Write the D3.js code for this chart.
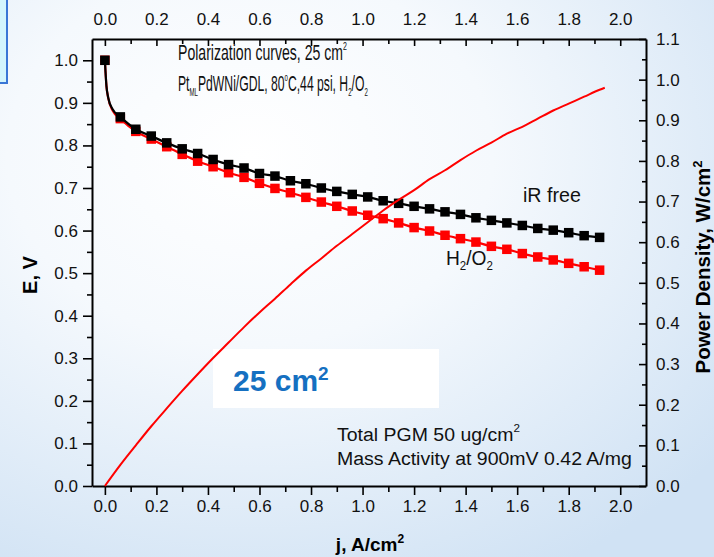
<!DOCTYPE html>
<html lang="en">
  <head>
    <meta charset="UTF-8" />
    <title>Polarization curves</title>
    <script src="https://cdn.jsdelivr.net/npm/d3@7/dist/d3.min.js"></script>
    <style>
      body { margin: 0; }
      text { font-family: "Liberation Sans", Arial, sans-serif; }
    </style>
  </head>
  <body>
    <script>
      // current density grid (A/cm2) where markers sit
      let currentDensity = [0, 0.06, 0.12, 0.18, 0.24, 0.3, 0.36, 0.42, 0.48, 0.54, 0.6,
        0.66, 0.72, 0.78, 0.84, 0.9, 0.96, 1.02, 1.08, 1.14, 1.2, 1.26, 1.32, 1.38,
        1.44, 1.5, 1.56, 1.62, 1.68, 1.74, 1.8, 1.86, 1.92];
      let eIRFree = [1.0, 0.867, 0.838, 0.822, 0.806, 0.792, 0.781, 0.767, 0.755, 0.747,
        0.734, 0.728, 0.717, 0.71, 0.7, 0.692, 0.685, 0.679, 0.67, 0.664, 0.657, 0.651,
        0.644, 0.638, 0.63, 0.624, 0.618, 0.612, 0.605, 0.601, 0.595, 0.588, 0.584];
      let eH2O2 = [1.0, 0.863, 0.833, 0.815, 0.797, 0.779, 0.763, 0.75, 0.736, 0.725,
        0.711, 0.699, 0.689, 0.678, 0.667, 0.657, 0.646, 0.636, 0.628, 0.618, 0.607,
        0.599, 0.589, 0.581, 0.573, 0.563, 0.556, 0.546, 0.538, 0.531, 0.523, 0.515, 0.507];
      let powerJ = currentDensity.concat([1.94]);
      let powerDensity = [0, 0.052, 0.1, 0.147, 0.191, 0.234, 0.275, 0.315, 0.353, 0.391,
        0.427, 0.461, 0.496, 0.53, 0.56, 0.591, 0.62, 0.649, 0.678, 0.704, 0.728, 0.755,
        0.777, 0.802, 0.825, 0.845, 0.867, 0.884, 0.904, 0.924, 0.941, 0.958, 0.975, 0.98];
      // extra line-only points near open circuit
      let lowJ = [0.006, 0.013, 0.03];
      let lowEIRFree = [0.94, 0.912, 0.885];
      let lowEH2O2 = [0.94, 0.911, 0.882];

      let xTicks = [0, 0.2, 0.4, 0.6, 0.8, 1.0, 1.2, 1.4, 1.6, 1.8, 2.0];
      let eTicks = d3.range(0, 11).map((d) => d / 10);
      let pTicks = d3.range(0, 12).map((d) => d / 10);

      let W = 714, H = 557;
      let L = 92, R = 646, T = 39, B = 486;

      let svg = d3.select("body").append("svg").attr("width", W).attr("height", H);

      let defs = svg.append("defs");
      let grad = defs.append("radialGradient").attr("id", "bg")
        .attr("cx", "35%").attr("cy", "28%").attr("r", "85%");
      grad.append("stop").attr("offset", "0%").attr("stop-color", "#ffffff");
      grad.append("stop").attr("offset", "40%").attr("stop-color", "#f5f9fd");
      grad.append("stop").attr("offset", "100%").attr("stop-color", "#d0e2f4");
      svg.append("rect").attr("width", W).attr("height", H).attr("fill", "url(#bg)");

      // slide box peeking in at top-left
      svg.append("rect").attr("x", -3).attr("y", -3).attr("width", 10).attr("height", 86)
        .attr("fill", "#d3f5fd").attr("stroke", "#3a76d6").attr("stroke-width", 2);

      let x = d3.scaleLinear().domain([-0.05, 2.1]).range([L, R]);
      let yE = d3.scaleLinear().domain([0, 1.05]).range([B, T]);
      let yP = d3.scaleLinear().domain([0, 1.1]).range([B, T]);

      let fmt = d3.format(".1f");
      let minorX = d3.range(1, 21, 2).map((d) => d / 10);
      let minorE = d3.range(0, 11).map((d) => d / 10 + 0.05).filter((d) => d < 1.05);
      let minorP = d3.range(0, 11).map((d) => d / 10 + 0.05);

      function styleAxis(g) {
        g.select(".domain").attr("stroke-width", 2);
        g.selectAll(".tick line").attr("stroke-width", 1.6);
        g.selectAll("text").attr("font-size", 17).attr("fill", "#111")
          .style("font-family", '"Liberation Sans", Arial, sans-serif');
      }
      function minor(g) {
        g.select(".domain").remove();
        g.selectAll("line").attr("stroke-width", 1.6);
      }

      // white box behind the 25 cm2 label
      svg.append("rect").attr("x", 213).attr("y", 349).attr("width", 226).attr("height", 59)
        .attr("fill", "#ffffff");

      // bottom
      svg.append("g").attr("transform", `translate(0,${B})`)
        .call(d3.axisBottom(x).tickValues(xTicks).tickFormat(fmt).tickSize(9).tickPadding(5).tickSizeOuter(0))
        .call(styleAxis);
      svg.append("g").attr("transform", `translate(0,${B})`)
        .call(d3.axisBottom(x).tickValues(minorX).tickFormat("").tickSize(6).tickSizeOuter(0))
        .call(minor);
      // top
      svg.append("g").attr("transform", `translate(0,${T})`)
        .call(d3.axisTop(x).tickValues(xTicks).tickFormat(fmt).tickSize(-7).tickPadding(14).tickSizeOuter(0))
        .call(styleAxis);
      svg.append("g").attr("transform", `translate(0,${T})`)
        .call(d3.axisTop(x).tickValues(minorX).tickFormat("").tickSize(-5).tickSizeOuter(0))
        .call(minor);
      // left
      svg.append("g").attr("transform", `translate(${L},0)`)
        .call(d3.axisLeft(yE).tickValues(eTicks).tickFormat(fmt).tickSize(9).tickPadding(5).tickSizeOuter(0))
        .call(styleAxis);
      svg.append("g").attr("transform", `translate(${L},0)`)
        .call(d3.axisLeft(yE).tickValues(minorE).tickFormat("").tickSize(5).tickSizeOuter(0))
        .call(minor);
      // right
      svg.append("g").attr("transform", `translate(${R},0)`)
        .call(d3.axisRight(yP).tickValues(pTicks).tickFormat(fmt).tickSize(-7).tickPadding(10).tickSizeOuter(0))
        .call(styleAxis);
      svg.append("g").attr("transform", `translate(${R},0)`)
        .call(d3.axisRight(yP).tickValues(minorP).tickFormat("").tickSize(-4).tickSizeOuter(0))
        .call(minor);

      // polarization curves
      function series(eVals, lowE, color) {
        let pts = [[currentDensity[0], eVals[0]]]
          .concat(lowJ.map((j, i) => [j, lowE[i]]))
          .concat(currentDensity.slice(1).map((j, i) => [j, eVals[i + 1]]));
        svg.append("path").datum(pts)
          .attr("fill", "none").attr("stroke", color).attr("stroke-width", 2.2)
          .attr("d", d3.line().x((d) => x(d[0])).y((d) => yE(d[1])).curve(d3.curveMonotoneX));
        let s = 9.5;
        svg.append("g").selectAll("rect")
          .data(currentDensity.map((j, i) => [j, eVals[i]]))
          .enter()
          .append("rect")
          .attr("x", (d) => x(d[0]) - s / 2)
          .attr("y", (d) => yE(d[1]) - s / 2)
          .attr("width", s).attr("height", s)
          .attr("fill", color);
      }
      series(eH2O2, lowEH2O2, "#ff0000");
      series(eIRFree, lowEIRFree, "#000000");

      // power density curve
      svg.append("path")
        .datum(powerJ.map((j, i) => [j, powerDensity[i]]))
        .attr("fill", "none").attr("stroke", "#ff0000").attr("stroke-width", 2)
        .attr("d", d3.line().x((d) => x(d[0])).y((d) => yP(d[1])).curve(d3.curveMonotoneX));

      // annotations: text squeezed to the width seen in the picture
      function note(px, py, parts, size, width, sub) {
        let k = sub || 0.6;
        let g = svg.append("g");
        let t = g.append("text").attr("font-size", size).attr("fill", "#111");
        parts.forEach((p) => {
          let ts = t.append("tspan").text(p[0]);
          if (p[1] == "sub") ts.attr("font-size", size * k).attr("baseline-shift", -size * 0.25);
          if (p[1] == "sup") ts.attr("font-size", size * k).attr("baseline-shift", size * 0.45);
        });
        let w = t.node().getComputedTextLength();
        g.attr("transform", `translate(${px},${py}) scale(${width / w},1)`);
      }
      note(178, 60, [["Polarization curves, 25 cm"], ["2", "sup"]], 22, 169, 0.5);
      note(178, 91, [["Pt"], ["ML", "sub"], ["PdWNi/GDL, 80"], ["o", "sup"], ["C,44 psi, H"], ["2", "sub"], ["/O"], ["2", "sub"]], 22, 190, 0.5);
      note(523, 202, [["iR free"]], 20, 58);
      note(446, 265, [["H"], ["2", "sub"], ["/O"], ["2", "sub"]], 20, 47);
      note(337, 441, [["Total PGM 50 ug/cm"], ["2", "sup"]], 19, 183);
      note(337, 465, [["Mass Activity at 900mV 0.42 A/mg"]], 19, 295);

      let big = svg.append("text").attr("x", 233).attr("y", 391)
        .attr("font-size", 30).attr("font-weight", "bold").attr("fill", "#1570c1");
      big.append("tspan").text("25 cm");
      big.append("tspan").text("2").attr("font-size", 19).attr("baseline-shift", 11);

      // axis titles
      svg.append("text").attr("transform", "translate(37,275) rotate(-90)")
        .attr("text-anchor", "middle").attr("font-size", 20).attr("font-weight", "bold")
        .text("E, V");
      let jt = svg.append("text").attr("x", 370).attr("y", 551)
        .attr("text-anchor", "middle").attr("font-size", 19).attr("font-weight", "bold");
      jt.append("tspan").text("j, A/cm");
      jt.append("tspan").text("2").attr("font-size", 12).attr("baseline-shift", 8);
      let pt = svg.append("text").attr("transform", "translate(710,267) rotate(-90)")
        .attr("text-anchor", "middle").attr("font-size", 20.5).attr("font-weight", "bold");
      pt.append("tspan").text("Power Density, W/cm");
      pt.append("tspan").text("2").attr("font-size", 13).attr("baseline-shift", 8);
    </script>
  </body>
</html>
